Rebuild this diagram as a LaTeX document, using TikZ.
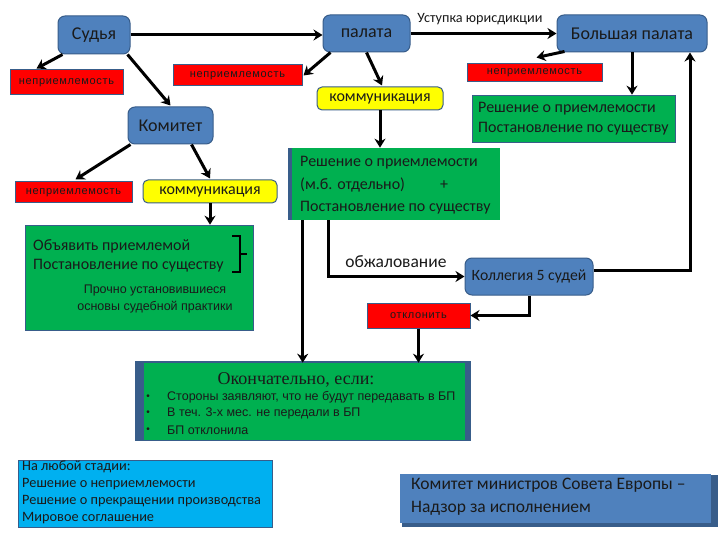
\documentclass[tikz,border=0pt]{standalone}
\usepackage{fontspec}
\setmainfont{Carlito}
\newfontfamily\arialf{Liberation Sans}
\newfontfamily\serf{Liberation Serif}
\usetikzlibrary{arrows.meta,calc}
\newcommand\fsz[2]{\fontsize{#1}{#2}\selectfont}
\definecolor{cblue}{HTML}{4F81BD}
\definecolor{cbord}{HTML}{385D8A}
\definecolor{cred}{HTML}{FF0000}
\definecolor{cyel}{HTML}{FFFF00}
\definecolor{cgreen}{HTML}{00B050}
\definecolor{clblue}{HTML}{00B0F0}
\definecolor{ctext}{HTML}{1A1A1A}
\tikzset{
  bluebox/.style={draw=cbord, fill=cblue, rounded corners=7pt, line width=1pt, inner sep=0pt, text=ctext, font=\fsz{18}{20}},
  redbox/.style={draw=cbord, fill=cred, line width=1pt, inner sep=0pt, text=ctext, font=\arialf\fsz{11}{13}\addfontfeature{LetterSpace=6}},
  yelbox/.style={draw=cbord, fill=cyel, rounded corners=5pt, line width=1pt, inner sep=0pt, text=ctext, font=\fsz{16}{18}},
  greenbox/.style={draw=cbord, fill=cgreen, line width=0.6pt, inner sep=0pt},
  txt/.style={inner sep=0pt, text=ctext},
  arr/.style={line width=3pt, -{Stealth[length=9pt,width=11pt]}},
  plain/.style={line width=3pt}
}
\begin{document}
\begin{tikzpicture}[x=1pt,y=-1pt]
\useasboundingbox[fill=white] (0,0) rectangle (720,540);

% top row
\node[bluebox, minimum width=72pt, minimum height=38pt] (sud) at (94,35) {Судья};
\node[bluebox, minimum width=87pt, minimum height=37pt] (pal) at (366.5,33.5) {палата};
\node[bluebox, minimum width=150pt, minimum height=37pt] (bp) at (632,33.5) {Большая палата};
\node[txt, font=\fsz{14.2}{16}] (ust) at (480,19) {Уступка юрисдикции};

% second row
\node[redbox, minimum width=113pt, minimum height=25pt] (n1) at (66.5,82.5) {неприемлемость};
\node[redbox, minimum width=129pt, minimum height=21pt] (n2) at (237.5,75.5) {неприемлемость};
\node[yelbox, minimum width=126pt, minimum height=23pt] (k1) at (380,98.5) {коммуникация};
\node[redbox, minimum width=135pt, minimum height=18pt] (n3) at (534.5,73) {неприемлемость};
\node[greenbox, minimum width=203pt, minimum height=47pt] (rtr) at (573.5,118.5) {};
\node[txt, anchor=west, align=left, font=\fsz{16}{20}] (rtrt) at (478,118.5) {Решение о приемлемости\\Постановление по существу};

% Committee
\node[bluebox, minimum width=85pt, minimum height=37pt] (kom) at (170.5,125.5) {Комитет};
\node[redbox, minimum width=117pt, minimum height=21pt] (n4) at (73.5,192.5) {неприемлемость};
\node[yelbox, minimum width=134pt, minimum height=23pt] (k2) at (210,191.5) {коммуникация};
\node[greenbox, minimum width=228pt, minimum height=105pt] (obj) at (139,277.5) {};
\node[txt, anchor=west, align=left, font=\fsz{16}{19}] (objt) at (33,255.5) {Объявить приемлемой\\Постановление по существу};
\node[txt, align=center, font=\arialf\fsz{12.5}{17}] (proch) at (155,298.5) {Прочно установившиеся\\основы судебной практики};
\draw[line width=2pt] (232,236) -- (240,236) -- (240,272) -- (232,272) (240,254) -- (247,254);

% middle decision
\fill[cbord] (288,148) rectangle (294,220);
\node[greenbox, draw=none, minimum width=208pt, minimum height=72pt] (rm) at (396,184) {};
\node[txt, anchor=west, align=left, font=\fsz{16}{22.5}] (rmt) at (300,185.5) {Решение о приемлемости\\(м.б. отдельно)\hspace{2.2em}+\\Постановление по существу};

% college
\node[bluebox, font=\fsz{15.7}{18}, minimum width=128pt, minimum height=37pt] (kol) at (529,276.5) {Коллегия 5 судей};
\node[txt, font=\fsz{17.5}{19}] (obzh) at (396,262) {обжалование};
\node[redbox, minimum width=103pt, minimum height=25pt] (otk) at (418.5,315.5) {отклонить};

% final
\fill[cbord] (135,361) rectangle (471,441);
\node[greenbox, draw=none, minimum width=321pt, minimum height=77pt] (oko) at (304.5,401.5) {};
\node[txt, font=\serf\fsz{18}{20}] (okot) at (296,380) {Окончательно, если:};
\node[txt, font=\arialf\fsz{10}{12}] (b1) at (148,397) {•};
\node[txt, font=\arialf\fsz{10}{12}] (b2) at (148,413.5) {•};
\node[txt, font=\arialf\fsz{10}{12}] (b3) at (148,430) {•};
\node[txt, anchor=west, font=\arialf\fsz{12.5}{14}] (t1) at (167,397) {Стороны заявляют, что не будут передавать в БП};
\node[txt, anchor=west, font=\arialf\fsz{12.5}{14}] (t2) at (167,413.5) {В теч. 3-х мес. не передали в БП};
\node[txt, anchor=west, font=\arialf\fsz{12.5}{14}] (t3) at (167,430) {БП отклонила};

% bottom boxes
\node[draw=cbord, fill=clblue, line width=1pt, minimum width=254pt, minimum height=67pt, inner sep=0pt] (lub) at (145,493.5) {};
\node[txt, anchor=west, align=left, font=\fsz{14.3}{17}] (lubt) at (22,492.5) {На любой стадии:\\Решение о неприемлемости\\Решение о прекращении производства\\Мировое соглашение};

\fill[cbord] (402,475) rectangle (718,527);
\node[fill=cblue, minimum width=311pt, minimum height=49pt, inner sep=0pt] (km) at (555.5,498.5) {};
\node[txt, anchor=west, align=left, font=\fsz{17.5}{23}] (kmt) at (411,497) {Комитет министров Совета Европы –\\Надзор за исполнением};

% connectors
\draw[arr] (sud.east) -- (sud.east -| pal.west);
\draw[arr] (pal.east) -- (pal.east -| bp.west);
\draw[arr] ($(sud.south west)+(5,0)$) -- ($(n1.north west)+(27,-1)$);
\draw[arr] ($(sud.south east)+(-3,0)$) -- ($(kom.north)+(0,-1)$);
\draw[arr] ($(pal.south west)+(8,0)$) -- ($(n2.east)+(1,0)$);
\draw[arr] (pal.south) -- ($(k1.north)+(2,-1)$);
\draw[arr] ($(bp.south west)+(8,-1)$) -- ($(n3.north)+(2,-6)$);
\draw[arr] (bp.south) -- (bp.south |- rtr.north);
\draw[arr] ($(kom.south west)+(3,0)$) -- ($(n4.north)+(2,-2)$);
\draw[arr] ($(kom.south east)+(-22,0)$) -- ($(k2.north)+(0,-1)$);
\draw[arr] (k2.south) -- (k2.south |- obj.north);
\draw[arr] (k1.south) -- (k1.south |- rm.north);
\coordinate (a1) at ($(rm.south west)+(11,0)$);
\draw[arr] (a1) -- (a1 |- oko.north);
\coordinate (a2) at ($(rm.south west)+(37,0)$);
\draw[arr] (a2) |- (kol.west);
\coordinate (a3) at ($(kol.east)+(0,-6)$);
\coordinate (a4) at ($(bp.south)+(58,0)$);
\draw[arr] (a3) -| (a4);
\draw[arr] (kol.south) |- (otk.east);
\draw[arr] (otk.south) -- (otk.south |- oko.north);
\end{tikzpicture}
\end{document}
